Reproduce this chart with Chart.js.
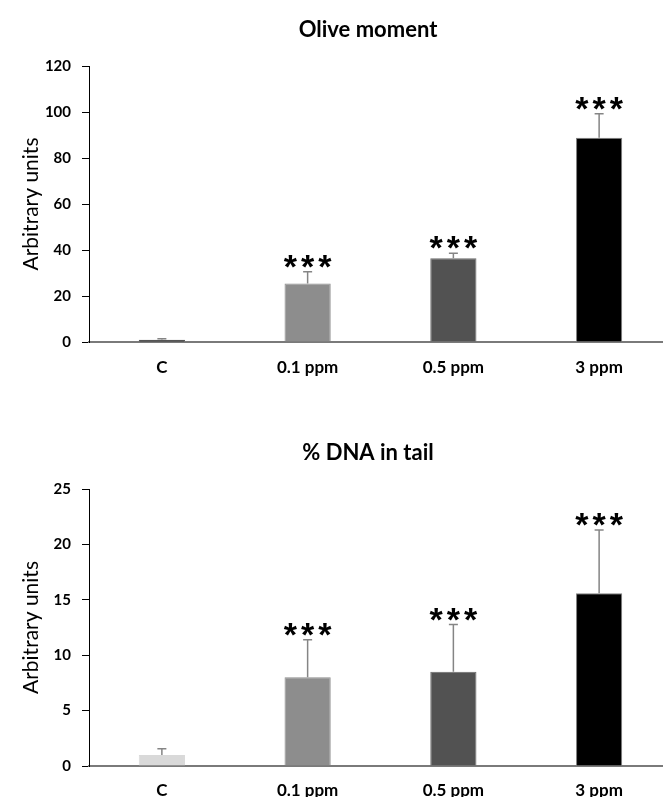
<!DOCTYPE html>
<html><head><meta charset="utf-8">
<script src="https://cdn.jsdelivr.net/npm/chart.js@4.4.0/dist/chart.umd.min.js"></script>
<style>
html,body{margin:0;padding:0;background:#fff;overflow:hidden;width:663px;height:797px;position:relative;}
.wrap{position:absolute;left:0;width:672px;}
#w1{top:0;height:400px;}
#w2{top:400px;height:397px;}
</style></head><body>
<div class="wrap" id="w1"><canvas id="c1"></canvas></div>
<div class="wrap" id="w2"><canvas id="c2"></canvas></div>
<script>
const categories = ['C', '0.1 ppm', '0.5 ppm', '3 ppm'];
const oliveMoment = [1.0, 25.4, 36.4, 88.8];
const oliveMomentErr = [0.4, 5.1, 2.2, 10.4];
const dnaTail = [1.0, 8.0, 8.5, 15.6];
const dnaTailErr = [0.56, 3.4, 4.27, 5.7];
const significant = [false, true, true, true];
const oliveTicks = {max: 120, step: 20};
const dnaTicks = {max: 25, step: 5};

const FONT = 'Lato, "Open Sans", sans-serif';

const decoPlugin = {
  id: 'deco',
  afterDatasetsDraw(chart, args, opts) {
    const meta = chart.getDatasetMeta(0);
    const ys = chart.scales.y;
    const ctx = chart.ctx;
    const vals = chart.data.datasets[0].data;
    ctx.save();
    meta.data.forEach((bar, i) => {
      const top = ys.getPixelForValue(vals[i] + opts.errors[i]);
      ctx.strokeStyle = '#858585';
      ctx.lineWidth = 1.5;
      ctx.beginPath();
      ctx.moveTo(bar.x, bar.y);
      ctx.lineTo(bar.x, top);
      ctx.moveTo(bar.x - 4.5, top);
      ctx.lineTo(bar.x + 4.5, top);
      ctx.stroke();
      if (opts.stars[i]) {
        ctx.fillStyle = '#000';
        ctx.font = 'bold 34px "Liberation Sans", Arial, sans-serif';
        ctx.textAlign = 'center';
        ctx.textBaseline = 'alphabetic';
        ctx.letterSpacing = '4px';
        ctx.fillText('***', bar.x + 2, top + 6);
        ctx.letterSpacing = '0px';
      }
    });
    ctx.fillStyle = '#000';
    ctx.font = 'bold 22px ' + FONT;
    ctx.textAlign = 'center';
    ctx.textBaseline = 'middle';
    ctx.fillText(opts.title, 368, opts.titleY);
    ctx.restore();
  }
};

function makeChart(id, title, titleY, values, errors, colors, borders, tk, padTop, xH, xPad) {
  return new Chart(document.getElementById(id), {
    type: 'bar',
    data: {
      labels: categories,
      datasets: [{
        data: values,
        backgroundColor: colors,
        borderColor: borders,
        borderWidth: 1,
        borderSkipped: 'bottom',
        barPercentage: 0.317,
        categoryPercentage: 1.0
      }]
    },
    options: {
      responsive: true,
      maintainAspectRatio: false,
      animation: false,
      events: [],
      layout: {padding: {top: padTop, left: 0, right: 0, bottom: 0}},
      plugins: {
        legend: {display: false},
        tooltip: {enabled: false},
        deco: {errors: errors, stars: significant, title: title, titleY: titleY}
      },
      scales: {
        x: {
          grid: {display: false},
          border: {display: true, color: '#7a7a7a', width: 2},
          ticks: {color: '#000', font: {family: FONT, size: 17, weight: 'bold'}, padding: xPad},
          afterFit(s) { s.height = xH; }
        },
        y: {
          min: 0, max: tk.max,
          grid: {display: true, drawOnChartArea: false, drawTicks: true, tickLength: 7, color: '#000', tickColor: '#000', lineWidth: 1},
          border: {display: true, color: '#000', width: 1},
          ticks: {stepSize: tk.step, color: '#000', font: {family: FONT, size: 15, weight: 'bold'}, padding: 11},
          title: {display: true, text: 'Arbitrary units', color: '#000', font: {family: FONT, size: 21, weight: 'normal'}, padding: {top: 19, bottom: 0}},
          afterFit(s) { s.width = 89; }
        }
      }
    },
    plugins: [decoPlugin]
  });
}

makeChart('c1', 'Olive moment', 30, oliveMoment, oliveMomentErr,
  ['#000000', '#8d8d8d', '#525252', '#000000'],
  ['#555555', '#8d8d8d', '#6a6a6a', '#808080'],
  oliveTicks, 66, 58, 7);
makeChart('c2', '% DNA in tail', 53, dnaTail, dnaTailErr,
  ['#d9d9d9', '#8d8d8d', '#525252', '#000000'],
  ['#d9d9d9', '#8d8d8d', '#6a6a6a', '#808080'],
  dnaTicks, 89, 31, 6);
</script>
</body></html>
